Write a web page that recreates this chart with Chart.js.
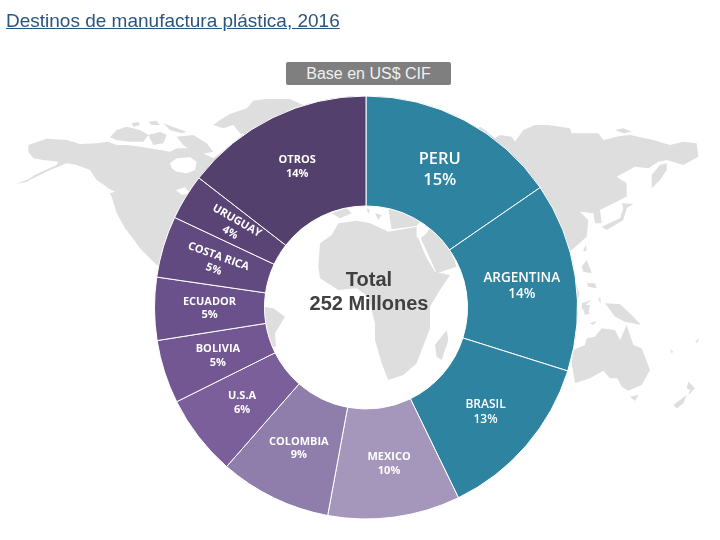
<!DOCTYPE html>
<html lang="es">
<head>
<meta charset="utf-8">
<title>Destinos de manufactura plástica, 2016</title>
<style>
html,body{margin:0;padding:0;background:#fff;overflow:hidden}
#wrap{position:relative;width:720px;height:540px;font-family:"Liberation Sans",Arial,sans-serif}
#map{position:absolute;left:0;top:0}
#c{position:absolute;left:0;top:0}
#title{position:absolute;left:6px;top:10px;font-size:19px;line-height:21px;color:#2b5580;text-decoration:underline;white-space:nowrap}
#base{position:absolute;left:286px;top:62px;width:165px;height:23px;line-height:23px;background:#7f7f7f;border-radius:2px;color:#f0f0f0;font-size:16px;text-align:center}
</style>
</head>
<body>
<div id="wrap">
<svg id="map" width="720" height="540" viewBox="0 0 720 540" fill="#dedede">
  <g transform="translate(0,80) scale(.33333)">
    <polygon points="85,195 120,183 140,176 200,180 240,192 290,190 325,185 350,195 380,195 420,200 450,205 480,210 510,215 530,205 560,205 600,215 640,235 680,205 720,180 720,520 560,560 470,555 440,525 420,505 395,470 375,445 350,400 335,350 320,320 290,300 270,270 230,255 200,250 180,258 150,270 100,295 80,305 45,312 85,298 105,285 125,275 170,255 175,245 130,240 100,235 85,215"/>
    <polygon points="330,172 350,150 380,140 420,150 445,165 430,185 390,185 350,180"/>
    <polygon points="395,130 415,125 420,135 400,140"/>
    <polygon points="445,125 470,122 480,135 455,135"/>
    <polygon points="490,130 530,145 560,155 545,160 510,150"/>
    <polygon points="445,165 480,155 500,165 490,190 460,195"/>
    <polygon points="530,170 580,165 620,190 640,215 590,225 550,195"/>
    <polygon fill="#fff" points="510,250 530,235 570,232 590,245 585,270 560,280 530,275 515,265"/>
    <polygon fill="#fff" points="528,330 555,322 570,340 545,345"/>
    <polygon fill="#fff" points="280,295 300,310 325,325 345,335 330,340 310,325"/>
  </g>
  <g transform="translate(150,90) scale(.33333)">
    <polygon points="190,105 210,90 240,72 290,55 310,32 350,27 420,27 470,50 400,150 270,130 250,105 220,115"/>
  </g>
  <g transform="translate(520,80) scale(.33333)">
    <polygon points="-120,140 -105,150 -75,175 -60,165 -25,170 -15,185 10,150 45,135 85,135 150,145 155,160 235,160 250,180 300,168 330,165 400,180 450,195 490,185 530,190 535,230 490,255 440,240 415,245 385,265 345,260 290,290 320,310 320,350 280,370 240,390 245,430 225,430 220,400 180,395 205,420 200,470 150,515 60,510 -180,210"/>
    <polygon points="285,150 310,145 335,155 310,160"/>
    <polygon points="395,285 420,255 440,250 440,270 420,300 395,325"/>
    <polygon points="245,440 300,415 310,385 305,370 340,372 320,385 310,420 260,450"/>
    <polygon points="190,510 198,495 200,510 192,515"/>
    <polygon points="185,560 200,540 210,565 215,580 190,575"/>
    <polygon points="200,610 225,610 230,625 205,620"/>
    <polygon points="235,660 240,650 243,670"/>
    <polygon points="185,670 215,660 190,680 210,700 195,705"/>
    <polygon points="170,620 178,640 172,670 160,660"/>
  </g>
  <g transform="translate(540,300) scale(.33333)">
    <polygon points="195,10 240,12 280,50 303,75 280,70 255,65 225,50"/>
    <polygon points="100,150 135,135 140,115 165,110 185,85 225,90 240,120 260,75 280,135 305,145 330,210 305,255 265,272 245,260 232,235 210,235 190,212 150,235 105,250 95,190"/>
    <polygon points="270,290 295,285 285,303"/>
    <polygon points="400,315 440,285 430,310 410,325"/>
    <polygon points="445,285 465,265 445,245 440,265 450,270"/>
    <polygon points="390,148 400,155 395,160"/>
    <polygon points="465,125 478,115 472,128"/>
    <polygon points="125,15 150,15 145,40 125,25"/>
    <polygon points="150,70 170,62 160,75"/>
  </g>
  <g transform="translate(260,200) scale(.33333)">
    <polygon points="180,130 215,105 235,70 290,62 330,70 385,95 470,80 470,110 475,115 500,175 525,215 570,225 540,270 510,320 510,385 470,490 430,525 385,540 365,490 345,420 345,370 325,290 290,265 235,270 180,235 175,200"/>
    <polygon points="482,115 500,100 510,80 570,150 590,200 530,220 508,170"/>
    <polygon points="215,40 260,25 275,40 240,55"/>
    <polygon points="320,25 330,30 325,42"/>
    <polygon points="345,40 365,45 355,60"/>
    <polygon points="385,20 440,40 480,65 470,78 395,88 390,60"/>
    <polygon points="12,320 40,325 75,350 45,400 48,440 12,440"/>
    <polygon points="525,435 560,390 565,420 545,480 530,470"/>
  </g>
</svg>
<canvas id="c" width="720" height="540"></canvas>
<div id="title">Destinos de manufactura plástica, 2016</div>
<div id="base">Base en US$ CIF</div>
</div>
<script src="https://cdn.jsdelivr.net/npm/chart.js@4/dist/chart.umd.min.js"></script>
<script>
const categories = ["PERU","ARGENTINA","BRASIL","MEXICO","COLOMBIA","U.S.A","BOLIVIA","ECUADOR","COSTA RICA","URUGUAY","OTROS"];
const percentLabels = ["15%","14%","13%","10%","9%","6%","5%","5%","5%","4%","14%"];
const shares = [15.4,14.45,12.95,10.1,8.55,6.2,4.85,4.8,4.7,3.5,14.5];
const sliceColors = ["#2e83a0","#2e83a0","#2e83a0","#a596bb","#8f7dab","#7b5f9b","#725792","#6a518b","#614a80","#5a4476","#54406c"];
const centerLines = ["Total","252 Millones"];
const labelSizes = [16.5,13.5,12,11,11,11,11,11,11,11,11];
const labelRotations = [0,0,0,0,0,0,0,0,20,30,0];
const labelShiftX = [1,1,1,2,1,0,1,0,0,1,0];
const labelShiftY = [1,2,2.5,1,0,0,1,0,0.5,1,0];

const sliceLabels = {
  id:'sliceLabels',
  afterDatasetsDraw(chart){
    const ctx = chart.ctx;
    const arcs = chart.getDatasetMeta(0).data;
    ctx.save();
    ctx.textAlign='center';
    ctx.textBaseline='middle';
    ctx.fillStyle='#fff';
    arcs.forEach((arc,i)=>{
      const p = arc.tooltipPosition();
      const s = labelSizes[i];
      ctx.save();
      ctx.translate(p.x+labelShiftX[i],p.y+labelShiftY[i]);
      ctx.rotate(labelRotations[i]*Math.PI/180);
      ctx.font = (i<3?'600 ':'700 ')+s+'px "Open Sans", sans-serif';
      ctx.fillText(categories[i],0,-s*0.62);
      ctx.fillText(percentLabels[i],0,s*0.62);
      ctx.restore();
    });
    const a0 = arcs[0];
    ctx.fillStyle='#404040';
    ctx.font='bold 20px "Liberation Sans", Arial, sans-serif';
    ctx.fillText(centerLines[0],a0.x+3,a0.y-27);
    ctx.fillText(centerLines[1],a0.x+3,a0.y-3);
    ctx.restore();
  }
};

new Chart(document.getElementById('c'),{
  type:'doughnut',
  data:{labels:categories,datasets:[{data:shares,backgroundColor:sliceColors,borderColor:'#ffffff',borderWidth:1}]},
  options:{
    responsive:false,
    animation:false,
    cutout:'48%',
    layout:{padding:{left:154,right:142,top:95,bottom:20}},
    plugins:{legend:{display:false},tooltip:{enabled:false},title:{display:false}}
  },
  plugins:[sliceLabels]
});
</script>
</body>
</html>
